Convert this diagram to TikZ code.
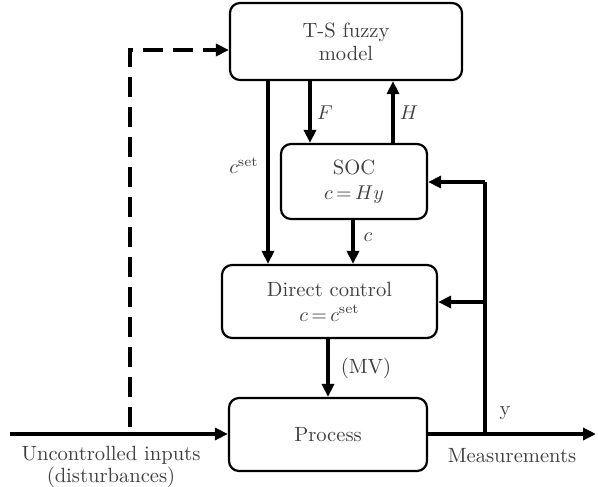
\documentclass[tikz,border=0pt]{standalone}
\usetikzlibrary{arrows.meta}
\begin{document}
\begin{tikzpicture}[x=0.5pt,y=-0.5pt,
  font=\fontsize{10.3}{12.6}\selectfont,
  box/.style={draw=black, line width=1.1pt, rounded corners=5pt, align=center, text=black!75, inner sep=0pt},
  arr/.style={line width=2pt, -{Triangle[length=6.5pt,width=6pt]}},
  thick line/.style={line width=2pt},
  dashline/.style={line width=2pt, dash pattern=on 10pt off 5pt, -{Triangle[length=6.5pt,width=6pt]}},
  lbl/.style={text=black!75, inner sep=0pt}]
\useasboundingbox (0,0) rectangle (598,486);

% boxes
\node[box, minimum width=116pt, minimum height=38.5pt] (tsm) at (346,41.5) {T-S fuzzy\\[-1pt]model};
\node[box, minimum width=73pt, minimum height=37.5pt] (soc) at (354,181.5) {SOC\\$c\,{=}\,Hy$};
\node[box, minimum width=107.5pt, minimum height=36.5pt] (dc) at (329.5,301.5) {Direct control\\$c\,{=}\,c^{\mathrm{set}}$};
\node[box, minimum width=99pt, minimum height=36.5pt] (proc) at (328,434.5) {Process};

% helper coordinates
\coordinate (xcset) at (268,0);
\coordinate (xF) at (310,0);
\coordinate (xH) at (393,0);
\coordinate (xc) at (353,0);
\coordinate (xmv) at (328,0);
\coordinate (in) at (10,434);
\coordinate (out) at (596,434);
\coordinate (junc) at (485,434);
\coordinate (fbsoc) at (485,182);
\coordinate (fbdc) at (485,302);
\coordinate (dstart) at (130,427);
\coordinate (dcorner) at (130,50);

% vertical signals
\draw[arr] (tsm.south -| xcset) -- (dc.north -| xcset);
\draw[arr] (tsm.south -| xF) -- (soc.north -| xF);
\draw[arr] (soc.north -| xH) -- (tsm.south -| xH);
\draw[arr] (soc.south -| xc) -- (dc.north -| xc);
\draw[arr] (dc.south -| xmv) -- (proc.north -| xmv);

% main line
\draw[arr] (in) -- (proc.west |- in);
\draw[arr] (proc.east |- out) -- (out);

% feedback
\draw[thick line] (junc) -- (fbsoc);
\draw[arr] (fbsoc) -- (soc.east |- fbsoc);
\draw[arr] (fbdc) -- (dc.east |- fbdc);

% dashed disturbance path
\draw[dashline] (dstart) -- (dcorner) -- (tsm.west |- dcorner);

% labels
\node[lbl] (lcset) at (244,166) {$c^{\mathrm{set}}$};
\node[lbl] (lF) at (325,113) {$F$};
\node[lbl] (lH) at (409,113) {$H$};
\node[lbl] (lc) at (368,237) {$c$};
\node[lbl] (lmv) at (366,368) {(MV)};
\node[lbl] (ly) at (505,413) {y};
\node[lbl] (lmeas) at (512,456) {Measurements};
\node[lbl, align=center, font=\fontsize{10.3}{11.2}\selectfont] (lunc) at (111,467) {Uncontrolled inputs\\(disturbances)};
\end{tikzpicture}
\end{document}
